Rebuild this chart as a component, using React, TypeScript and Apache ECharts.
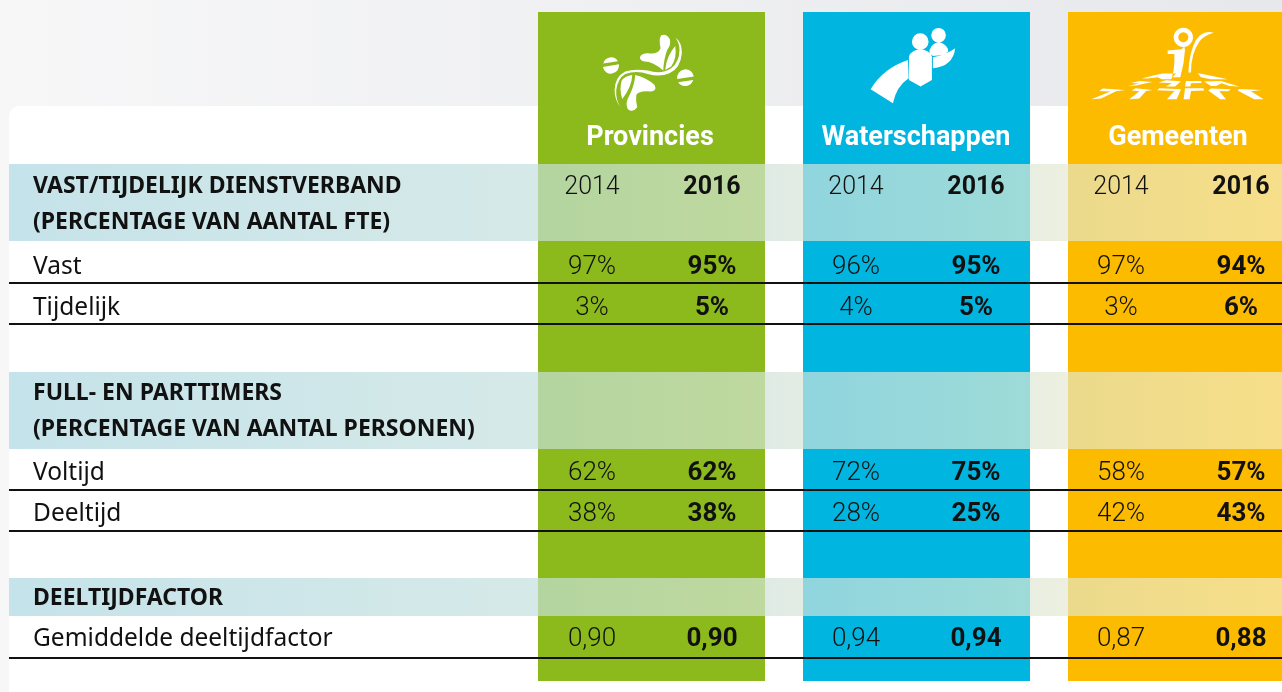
import React, { useEffect, useRef } from "react";
import * as echarts from "echarts";

const FONT = "Roboto";
const LABEL_FONT = "'Noto Sans'";
const years = ["2014", "2016"];
const latestYear = "2016";
const organisations = ["Provincies", "Waterschappen", "Gemeenten"];
const orgColors = ["#8cba1c", "#00b6e1", "#fdbb00"];

const rowLabels = ["Vast", "Tijdelijk", "Voltijd", "Deeltijd", "Gemiddelde deeltijdfactor"];
const headings = [
  "VAST/TIJDELIJK DIENSTVERBAND",
  "(PERCENTAGE VAN AANTAL FTE)",
  "FULL- EN PARTTIMERS",
  "(PERCENTAGE VAN AANTAL PERSONEN)",
  "DEELTIJDFACTOR",
];

// percent rows: Vast, Tijdelijk, Voltijd, Deeltijd
const provincies2014 = [97, 3, 62, 38];
const provincies2016 = [95, 5, 62, 38];
const waterschappen2014 = [96, 4, 72, 28];
const waterschappen2016 = [95, 5, 75, 25];
const gemeenten2014 = [97, 3, 58, 42];
const gemeenten2016 = [94, 6, 57, 43];
// deeltijdfactor
const factor2014 = [0.9, 0.94, 0.87];
const factor2016 = [0.9, 0.94, 0.88];

// layout
const rowY = [265, 306, 471, 512, 637];
const headingY = [184, 220, 391, 427, 596];
const labelY = [264, 305, 470, 511, 636];
const ruleY = [283, 324, 490, 531, 658];
const bandX = [
  [538, 765],
  [803, 1030],
  [1068, 1282],
];
const gridLeft = [532, 796, 1061];
const rowBands = [
  [164, 77],
  [372, 77],
  [578, 38],
];
const segments: [number, number, string, string][] = [
  [9, 538, "#c5e3ea", "#d6e9e8"],
  [538, 765, "#b4d5a0", "#bfd99f"],
  [765, 803, "#deebe5", "#e3ece3"],
  [803, 1030, "#90d5de", "#9edbd8"],
  [1030, 1068, "#e8eee1", "#edf0e0"],
  [1068, 1282, "#ebda8c", "#f7df8a"],
];

const provPaths =
  "M306 172Q310 160 330 160Q360 165 368 145Q362 118 370 106Q385 100 396 118Q400 135 388 150Q378 175 376 212Q345 185 320 185Q306 182 306 172Z" +
  "M382 210Q385 170 412 138Q418 175 400 200Z" +
  "M413 113Q432 125 432 160Q428 205 395 220Q365 232 330 222Q295 210 262 222Q240 235 235 270Q233 300 248 322Q230 300 230 270Q232 230 262 215Q290 205 330 212Q370 225 400 205Q425 185 425 150Q425 130 413 113Z" +
  "M283 225Q282 260 253 297Q243 265 252 240Q262 228 283 225Z" +
  "M292 225Q330 235 350 255Q358 272 340 275Q305 270 295 285Q293 305 298 322Q285 340 270 328Q260 310 275 285Q290 255 292 225Z" +
  "M196 191A24 24 0 0 1 240 184Z" +
  "M195 201L243 193A24 24 0 0 1 195 201Z" +
  "M418 237L468 230A25 25 0 0 0 418 237Z" +
  "M421 247L466 240A25 25 0 0 1 421 247Z";

const waterPaths =
  "M213 170Q220 150 247 148Q275 150 282 170L282 240L248 260L213 240Z" +
  "M275 160Q272 135 302 125Q332 135 331 155Q320 168 285 168Z" +
  "M210 180Q135 205 98 268L165 310Q175 260 212 235Z" +
  "M285 172Q325 165 352 145Q345 200 285 205Z" +
  "M222 125A25 25 0 1 1 272 125A25 25 0 1 1 222 125Z" +
  "M280 106A22 22 0 1 1 324 106A22 22 0 1 1 280 106Z";

const gemPaths =
  "M990 152L1032 148L1040 140L1042 150Q1040 190 1028 232L1003 232Q1012 200 1010 162L990 162Z" +
  "M1128 98Q1095 90 1075 120Q1055 155 1052 218L1060 218Q1060 160 1085 125Q1100 105 1128 98Z" +
  "M761 298L790 296L835 274L862 270L795 266L785 273L818 275Z" +
  "M875 298L905 296L925 273L945 270L893 265L882 272L905 274Z" +
  "M988 298L1017 298L1030 268L965 265L958 271L1010 273Z" +
  "M1038 298L1056 298L1060 273L1100 272L1097 265L1042 265Z" +
  "M1120 266L1180 268L1172 274L1145 273L1165 298L1148 298L1112 272Z" +
  "M1205 267L1272 270L1240 274L1278 298L1250 298L1200 272Z" +
  "M870 258L895 257L925 250L945 246L905 243L880 249L905 251Z" +
  "M985 260L1012 260L1030 244L985 241L962 248L1002 250Z" +
  "M1042 260L1058 260L1060 250L1092 249L1090 243L1045 243Z" +
  "M1100 245L1150 243L1205 260L1175 258L1152 250L1135 258L1120 258Z" +
  "M912 236L930 236L960 232L972 238L1000 238L1015 220L975 221L950 226Z" +
  "M1080 220L1095 222L1170 238L1120 238L1090 232Z";

echarts.graphic.registerShape("provIcon", echarts.graphic.extendPath(provPaths, {}) as any);
echarts.graphic.registerShape("waterIcon", echarts.graphic.extendPath(waterPaths, {}) as any);
echarts.graphic.registerShape("gemIcon", echarts.graphic.extendPath(gemPaths, {}) as any);

const pct = (v: number) => `${v}%`;
const dec = (v: number) => v.toFixed(2).replace(".", ",");

function seriesFor(grid: number, yearIdx: number, pcts: number[], factor: number) {
  const bold = yearIdx === 1;
  const texts = [...pcts.map(pct), dec(factor)];
  return {
    type: "scatter",
    xAxisIndex: grid,
    yAxisIndex: grid,
    z: 10,
    symbolSize: 1,
    clip: false,
    itemStyle: { color: "transparent", opacity: 1 },
    silent: true,
    data: texts.map((t, i) => ({ value: [years[yearIdx], rowY[i]], name: t })),
    label: {
      show: true,
      position: "inside",
      formatter: (p: any) => p.name,
      color: "#111",
      opacity: 1,
      fontFamily: FONT,
      fontSize: 26,
      fontWeight: bold ? 700 : 300,
    },
  };
}

function option() {
  const g: any[] = [];
  g.push({
    type: "rect", z: 0, shape: { x: 0, y: 0, width: 1282, height: 692 },
    style: { fill: new echarts.graphic.LinearGradient(0, 0, 1, 0, [
      { offset: 0, color: "#f7f7f8" }, { offset: 1, color: "#e7e8ec" } ]) },
  });
  g.push({ type: "rect", z: 0, shape: { x: 9, y: 106, width: 1290, height: 600, r: 10 }, style: { fill: "#fff" } });
  bandX.forEach(([a, b], i) =>
    g.push({ type: "rect", z: 1, shape: { x: a, y: 12, width: b - a, height: 669 }, style: { fill: orgColors[i] } })
  );
  rowBands.forEach(([y, h]) =>
    segments.forEach(([a, b, c0, c1]) =>
      g.push({
        type: "rect", z: 2, shape: { x: a, y, width: b - a, height: h },
        style: { fill: new echarts.graphic.LinearGradient(0, 0, 1, 0, [
          { offset: 0, color: c0 }, { offset: 1, color: c1 } ]) },
      })
    )
  );
  ruleY.forEach((y) =>
    g.push({ type: "line", z: 3, shape: { x1: 9, y1: y, x2: 1282, y2: y }, style: { stroke: "#111", lineWidth: 2 } })
  );
  const ICON = [
    { type: "provIcon", x: 538 },
    { type: "waterIcon", x: 838 },
    { type: "gemIcon", x: 838 },
  ];
  ICON.forEach((ic) =>
    g.push({ type: ic.type, z: 4, x: ic.x, y: 0, scaleX: 1 / 3, scaleY: 1 / 3, style: { fill: "#fff" } })
  );
  g.push({
    type: "ring", z: 4, x: 838, y: 0, scaleX: 1 / 3, scaleY: 1 / 3,
    shape: { cx: 1037, cy: 112, r: 29, r0: 15 }, style: { fill: "#fff" },
  });
  const titleX = [650, 916, 1178];
  organisations.forEach((t, i) =>
    g.push({
      type: "text", z: 5, x: titleX[i], y: 136,
      style: { text: t, fill: "#fff", font: `700 27px ${FONT}`, align: "center", verticalAlign: "middle" },
    })
  );
  headings.forEach((t, i) =>
    g.push({
      type: "text", z: 5, x: 33, y: headingY[i],
      style: { text: t, fill: "#111", font: `700 23px ${LABEL_FONT}`, align: "left", verticalAlign: "middle" },
    })
  );
  rowLabels.forEach((t, i) =>
    g.push({
      type: "text", z: 5, x: 33, y: labelY[i],
      style: { text: t, fill: "#111", font: `400 24.5px ${LABEL_FONT}`, align: "left", verticalAlign: "middle" },
    })
  );

  const grids = gridLeft.map((left) => ({ left, width: 240, top: 0, height: 692, outerBoundsMode: "none" }));
  const xAxis = gridLeft.map((_, i) => ({
    type: "category",
    gridIndex: i,
    position: "top",
    data: years,
    z: 10,
    axisLine: { show: false },
    axisTick: { show: false },
    axisLabel: {
      inside: true,
      margin: 185,
      hideOverlap: false,
      showMinLabel: true,
      showMaxLabel: true,
      verticalAlign: "middle",
      formatter: (v: string) => (v === latestYear ? `{b|${v}}` : `{r|${v}}`),
      rich: {
        b: { fontFamily: FONT, fontSize: 25, fontWeight: 700, color: "#111" },
        r: { fontFamily: FONT, fontSize: 25, fontWeight: 300, color: "#111" },
      },
    },
  }));
  const yAxis = gridLeft.map((_, i) => ({
    type: "value", gridIndex: i, inverse: true, min: 0, max: 692, show: false, splitLine: { show: false },
  }));
  return {
    animation: false,
    graphic: { elements: g },
    grid: grids,
    xAxis,
    yAxis,
    series: [
      seriesFor(0, 0, provincies2014, factor2014[0]),
      seriesFor(0, 1, provincies2016, factor2016[0]),
      seriesFor(1, 0, waterschappen2014, factor2014[1]),
      seriesFor(1, 1, waterschappen2016, factor2016[1]),
      seriesFor(2, 0, gemeenten2014, factor2014[2]),
      seriesFor(2, 1, gemeenten2016, factor2016[2]),
    ],
  };
}

export default function App() {
  const ref = useRef<HTMLDivElement>(null);
  useEffect(() => {
    const chart = echarts.init(ref.current!, null, { renderer: "svg" });
    chart.setOption(option() as any);
    return () => chart.dispose();
  }, []);
  return <div ref={ref} style={{ position: "fixed", left: 0, top: 0, width: 1282, height: 692 }} />;
}
